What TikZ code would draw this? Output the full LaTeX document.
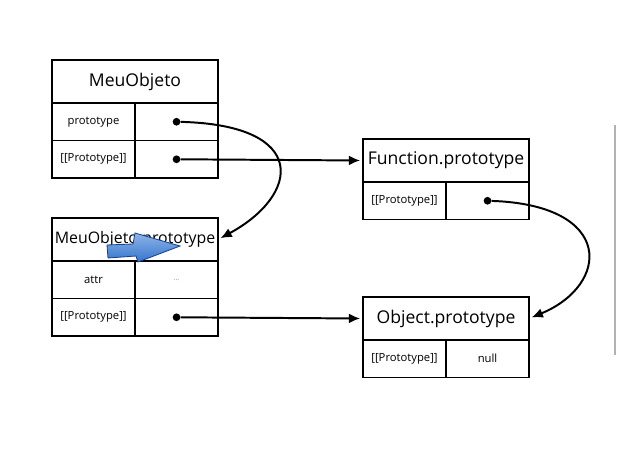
\documentclass[tikz,border=0pt]{standalone}
\usepackage{fontspec}
\setmainfont{Open Sans}
\usetikzlibrary{positioning,arrows.meta}
\definecolor{cursorblue}{RGB}{52,118,208}
\definecolor{cursorrim}{RGB}{26,66,140}

\begin{document}
\begin{tikzpicture}[
			x=0.025cm, y=-0.025cm,
			head/.style={draw, line width=1.1pt, rectangle, outer sep=0pt, inner sep=0pt, minimum width=4.15cm, minimum height=1.075cm, anchor=north west, font=\fontsize{12.5}{14}\selectfont},
			cell/.style={draw, line width=1.1pt, rectangle, outer sep=0pt, inner sep=0pt, minimum width=2.075cm, minimum height=0.9375cm, font=\fontsize{8}{9}\selectfont},
			dot/.style={circle, fill=black, inner sep=0pt, minimum size=5.5pt},
			link/.style={line width=1.4pt, -{Latex[length=8pt,width=7pt]}, shorten >=2pt}
			]
			\useasboundingbox (0,0) rectangle (617,460);
			
			% MeuObjeto
			\node[head] (meuobj) at (52,60) {MeuObjeto};
			\node[cell, below=0pt of meuobj.south west, anchor=north west] (meuobjk1) {prototype};
			\node[cell, right=0pt of meuobjk1] (meuobjv1) {};
			\node[cell, below=0pt of meuobjk1] (meuobjk2) {[[Prototype]]};
			\node[cell, right=0pt of meuobjk2] (meuobjv2) {};
			\node[dot] (meuobjd1) at (meuobjv1) {};
			\node[dot] (meuobjd2) at (meuobjv2) {};
			
			% MeuObjeto.prototype
			\node[head, font=\fontsize{11.3}{13}\selectfont] (meuproto) at (52,218) {MeuObjeto.prototype};
			\node[cell, below=0pt of meuproto.south west, anchor=north west] (meuprotok1) {attr};
			\node[cell, right=0pt of meuprotok1, font=\fontsize{5}{6}\selectfont, text=gray] (meuprotov1) {...};
			\node[cell, below=0pt of meuprotok1] (meuprotok2) {[[Prototype]]};
			\node[cell, right=0pt of meuprotok2] (meuprotov2) {};
			\node[dot] (meuprotod2) at (meuprotov2) {};
			
			% Function.prototype
			\node[head] (funcproto) at (363,139) {Function.prototype};
			\node[cell, below=0pt of funcproto.south west, anchor=north west] (funcprotok1) {[[Prototype]]};
			\node[cell, right=0pt of funcprotok1] (funcprotov1) {};
			\node[dot] (funcprotod1) at (funcprotov1) {};
			
			% Object.prototype
			\node[head] (objproto) at (363,297) {Object.prototype};
			\node[cell, below=0pt of objproto.south west, anchor=north west] (objprotok1) {[[Prototype]]};
			\node[cell, right=0pt of objprotok1] (objprotov1) {null};
			
			% cadeia de prototipos
			\draw[link] (meuobjd1) .. controls (310,125) and (300,195) .. (meuproto.east);
			\draw[link] (meuobjd2) -- (funcproto.west);
			\draw[link] (meuprotod2) -- (objproto.west);
			\draw[link] (funcprotod1) .. controls (615,205) and (610,285) .. (objproto.east);
			
			% cursor azul
			\shade[top color=cursorblue!55!white, bottom color=cursorblue, draw=cursorrim, line width=0.6pt]
				(107,245) -- (133,244) -- (135,233) -- (180,246) -- (138,262) -- (136,256) -- (108,258) -- cycle;
			
			% borda da janela
			\draw[gray!60, line width=0.8pt] (615,125) -- (615,355);
			
		\end{tikzpicture}
\end{document}
